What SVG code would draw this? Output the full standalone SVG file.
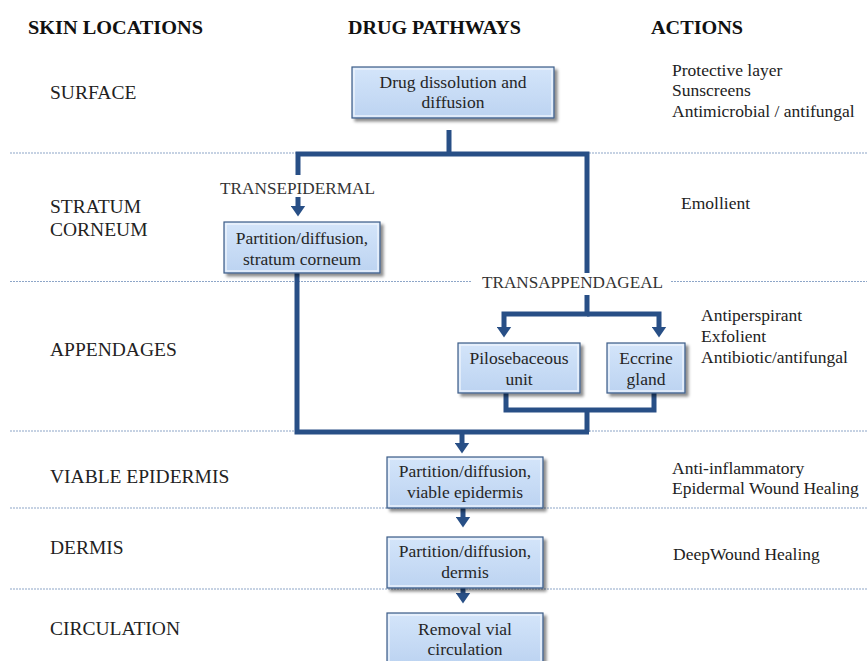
<svg xmlns="http://www.w3.org/2000/svg" width="867" height="661" viewBox="0 0 867 661">
<style>
text{font-family:'Liberation Serif','DejaVu Serif',serif}
.hdr{font-weight:bold;font-size:19px;fill:#111}
.loc{font-size:19.5px;fill:#222}
.act{font-size:17.5px;fill:#222}
.lbl{font-size:17px;fill:#333}
.bt{font-size:17.5px;fill:#262626;text-anchor:middle}
.dash{stroke:#8ea6c8;stroke-width:1.2;stroke-dasharray:2 1;fill:none}
.con{stroke:#284f86;stroke-width:5;fill:none;stroke-linejoin:miter}
.box{fill:url(#bg);stroke:#3d5c86;stroke-width:1.2;filter:url(#sh)}
.bev{fill:none;stroke:#eef5fd;stroke-width:1.5;opacity:.9}
</style>
<defs>
<linearGradient id="bg" x1="0" y1="0" x2="0" y2="1">
<stop offset="0" stop-color="#d4e5fa"/>
<stop offset="1" stop-color="#bcd3f1"/>
</linearGradient>
<filter id="sh" x="-10%" y="-10%" width="130%" height="140%">
<feDropShadow dx="3" dy="3" stdDeviation="1.8" flood-color="#000" flood-opacity="0.45"/>
</filter>
<marker id="ah" markerUnits="userSpaceOnUse" markerWidth="11" markerHeight="15" viewBox="0 0 11 15" refX="0.5" refY="7.5" orient="auto">
<path d="M0,0 L11,7.5 L0,15 z" fill="#284f86"/>
</marker>
</defs>

<g id="headers">
<text class="hdr" x="28" y="34" textLength="175" lengthAdjust="spacingAndGlyphs">SKIN LOCATIONS</text>
<text class="hdr" x="348" y="34" textLength="173" lengthAdjust="spacingAndGlyphs">DRUG PATHWAYS</text>
<text class="hdr" x="651" y="34" textLength="92" lengthAdjust="spacingAndGlyphs">ACTIONS</text>
</g>

<g id="dividers">
<line class="dash" x1="10" y1="153" x2="867" y2="153"/>
<line class="dash" x1="10" y1="281.5" x2="472" y2="281.5"/>
<line class="dash" x1="671" y1="281.5" x2="867" y2="281.5"/>
<line class="dash" x1="10" y1="431" x2="867" y2="431"/>
<line class="dash" x1="10" y1="508" x2="867" y2="508"/>
<line class="dash" x1="10" y1="589" x2="867" y2="589"/>
</g>

<g id="locations">
<text class="loc" x="50" y="99">SURFACE</text>
<text class="loc" x="50" y="213">STRATUM</text>
<text class="loc" x="50" y="236">CORNEUM</text>
<text class="loc" x="50" y="356">APPENDAGES</text>
<text class="loc" x="50" y="483">VIABLE EPIDERMIS</text>
<text class="loc" x="50" y="554">DERMIS</text>
<text class="loc" x="50" y="635">CIRCULATION</text>
</g>

<g id="actions">
<text class="act" x="672" y="76">Protective layer</text>
<text class="act" x="672" y="96">Sunscreens</text>
<text class="act" x="672" y="117">Antimicrobial / antifungal</text>
<text class="act" x="681" y="209">Emollient</text>
<text class="act" x="701" y="321">Antiperspirant</text>
<text class="act" x="701" y="342">Exfolient</text>
<text class="act" x="701" y="363">Antibiotic/antifungal</text>
<text class="act" x="672" y="474">Anti-inflammatory</text>
<text class="act" x="672" y="494">Epidermal Wound Healing</text>
<text class="act" x="673" y="560">DeepWound Healing</text>
</g>

<g id="connectors">
<path class="con" d="M449,130 V154"/>
<path class="con" d="M298,175 V154 H587 V273"/>
<path class="con" d="M298,197 V206" marker-end="url(#ah)"/>
<path class="con" d="M587,295 V314 H504 V327" marker-end="url(#ah)"/>
<path class="con" d="M587,314 H659 V327" marker-end="url(#ah)"/>
<path class="con" d="M506,393 V410 H654 V393"/>
<path class="con" d="M587,410 V432"/>
<path class="con" d="M297,273 V432 H589"/>
<path class="con" d="M462,432 V443" marker-end="url(#ah)"/>
<path class="con" d="M463,508 V517" marker-end="url(#ah)"/>
<path class="con" d="M463,588 V593" marker-end="url(#ah)"/>
<text class="lbl" x="220" y="194" textLength="155" lengthAdjust="spacingAndGlyphs">TRANSEPIDERMAL</text>
<text class="lbl" x="482" y="288" textLength="181" lengthAdjust="spacingAndGlyphs">TRANSAPPENDAGEAL</text>
</g>

<g id="n-dissolution">
<rect class="box" x="352" y="67" width="202" height="51"/>
<rect class="bev" x="354" y="69" width="198" height="47"/>
<text class="bt" x="453" y="88">Drug dissolution and</text>
<text class="bt" x="453" y="108">diffusion</text>
</g>

<g id="n-stratum">
<rect class="box" x="224" y="222" width="156" height="51"/>
<rect class="bev" x="226" y="224" width="152" height="47"/>
<text class="bt" x="302" y="244">Partition/diffusion,</text>
<text class="bt" x="302" y="265">stratum corneum</text>
</g>

<g id="n-pilo">
<rect class="box" x="458" y="343" width="122" height="50"/>
<rect class="bev" x="460" y="345" width="118" height="46"/>
<text class="bt" x="519" y="364">Pilosebaceous</text>
<text class="bt" x="519" y="385">unit</text>
</g>

<g id="n-eccrine">
<rect class="box" x="607" y="343" width="78" height="50"/>
<rect class="bev" x="609" y="345" width="74" height="46"/>
<text class="bt" x="646" y="364">Eccrine</text>
<text class="bt" x="646" y="385">gland</text>
</g>

<g id="n-viable">
<rect class="box" x="387" y="457" width="156" height="51"/>
<rect class="bev" x="389" y="459" width="152" height="47"/>
<text class="bt" x="465" y="477">Partition/diffusion,</text>
<text class="bt" x="465" y="498">viable epidermis</text>
</g>

<g id="n-dermis">
<rect class="box" x="387" y="537" width="156" height="51"/>
<rect class="bev" x="389" y="539" width="152" height="47"/>
<text class="bt" x="465" y="557">Partition/diffusion,</text>
<text class="bt" x="465" y="578">dermis</text>
</g>

<g id="n-circulation">
<rect class="box" x="387" y="613" width="156" height="51"/>
<rect class="bev" x="389" y="615" width="152" height="47"/>
<text class="bt" x="465" y="635">Removal vial</text>
<text class="bt" x="465" y="655">circulation</text>
</g>
</svg>
